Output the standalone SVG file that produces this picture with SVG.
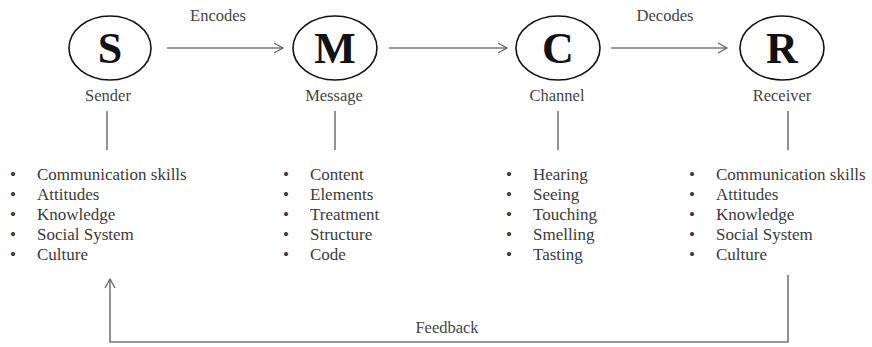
<svg xmlns="http://www.w3.org/2000/svg" width="872" height="347" viewBox="0 0 872 347">
<defs>
<marker id="arr" markerWidth="12" markerHeight="12" refX="10" refY="6" orient="auto" markerUnits="userSpaceOnUse">
<path d="M1,1 L10,6 L1,11" fill="none" stroke="#666" stroke-width="1.3"/>
</marker>
</defs>
<style>
.node ellipse{fill:#fff;stroke:#111;stroke-width:1.6}
.letter{font-family:"Liberation Serif",serif;font-weight:bold;font-size:44px;fill:#111;text-anchor:middle}
.lbl{font-family:"Liberation Serif",serif;font-size:16.5px;fill:#444;text-anchor:middle}
.item{font-family:"Liberation Serif",serif;font-size:17px;fill:#3a3a3a}
.conn line,.conn path{stroke:#777;stroke-width:1.6;fill:none}
</style>
<rect width="872" height="347" fill="#fff"/>
<g class="conn">
<line x1="167" y1="48" x2="283" y2="48" marker-end="url(#arr)"/>
<line x1="389" y1="48" x2="507" y2="48" marker-end="url(#arr)"/>
<line x1="611" y1="48" x2="727" y2="48" marker-end="url(#arr)"/>
<line x1="107" y1="111" x2="107" y2="150"/>
<line x1="335" y1="111" x2="335" y2="150"/>
<line x1="558" y1="111" x2="558" y2="150"/>
<line x1="788" y1="111" x2="788" y2="150"/>
<path d="M788,275 L788,342 L110,342 L110,279" marker-end="url(#arr)"/>
<text x="218" y="21" class="lbl">Encodes</text>
<text x="665" y="21" class="lbl">Decodes</text>
<text x="447" y="333" class="lbl">Feedback</text>
</g>
<g id="S" class="node">
<ellipse cx="110" cy="48" rx="41" ry="32"/>
<text x="110" y="63" class="letter">S</text>
<text x="108" y="101" class="lbl">Sender</text>
</g>
<g id="M" class="node">
<ellipse cx="335" cy="48" rx="42" ry="32"/>
<text x="335" y="63" class="letter">M</text>
<text x="334" y="101" class="lbl">Message</text>
</g>
<g id="C" class="node">
<ellipse cx="558" cy="48" rx="42" ry="32"/>
<text x="558" y="63" class="letter">C</text>
<text x="557" y="101" class="lbl">Channel</text>
</g>
<g id="R" class="node">
<ellipse cx="782" cy="48" rx="42" ry="32"/>
<text x="782" y="63" class="letter">R</text>
<text x="782" y="101" class="lbl">Receiver</text>
</g>
<g id="list-sender" class="item">
<text x="10" y="180">•</text><text x="37" y="180">Communication skills</text>
<text x="10" y="200">•</text><text x="37" y="200">Attitudes</text>
<text x="10" y="220">•</text><text x="37" y="220">Knowledge</text>
<text x="10" y="240">•</text><text x="37" y="240">Social System</text>
<text x="10" y="260">•</text><text x="37" y="260">Culture</text>
</g>
<g id="list-message" class="item">
<text x="283" y="180">•</text><text x="310" y="180">Content</text>
<text x="283" y="200">•</text><text x="310" y="200">Elements</text>
<text x="283" y="220">•</text><text x="310" y="220">Treatment</text>
<text x="283" y="240">•</text><text x="310" y="240">Structure</text>
<text x="283" y="260">•</text><text x="310" y="260">Code</text>
</g>
<g id="list-channel" class="item">
<text x="506" y="180">•</text><text x="533" y="180">Hearing</text>
<text x="506" y="200">•</text><text x="533" y="200">Seeing</text>
<text x="506" y="220">•</text><text x="533" y="220">Touching</text>
<text x="506" y="240">•</text><text x="533" y="240">Smelling</text>
<text x="506" y="260">•</text><text x="533" y="260">Tasting</text>
</g>
<g id="list-receiver" class="item">
<text x="689" y="180">•</text><text x="716" y="180">Communication skills</text>
<text x="689" y="200">•</text><text x="716" y="200">Attitudes</text>
<text x="689" y="220">•</text><text x="716" y="220">Knowledge</text>
<text x="689" y="240">•</text><text x="716" y="240">Social System</text>
<text x="689" y="260">•</text><text x="716" y="260">Culture</text>
</g>
</svg>
